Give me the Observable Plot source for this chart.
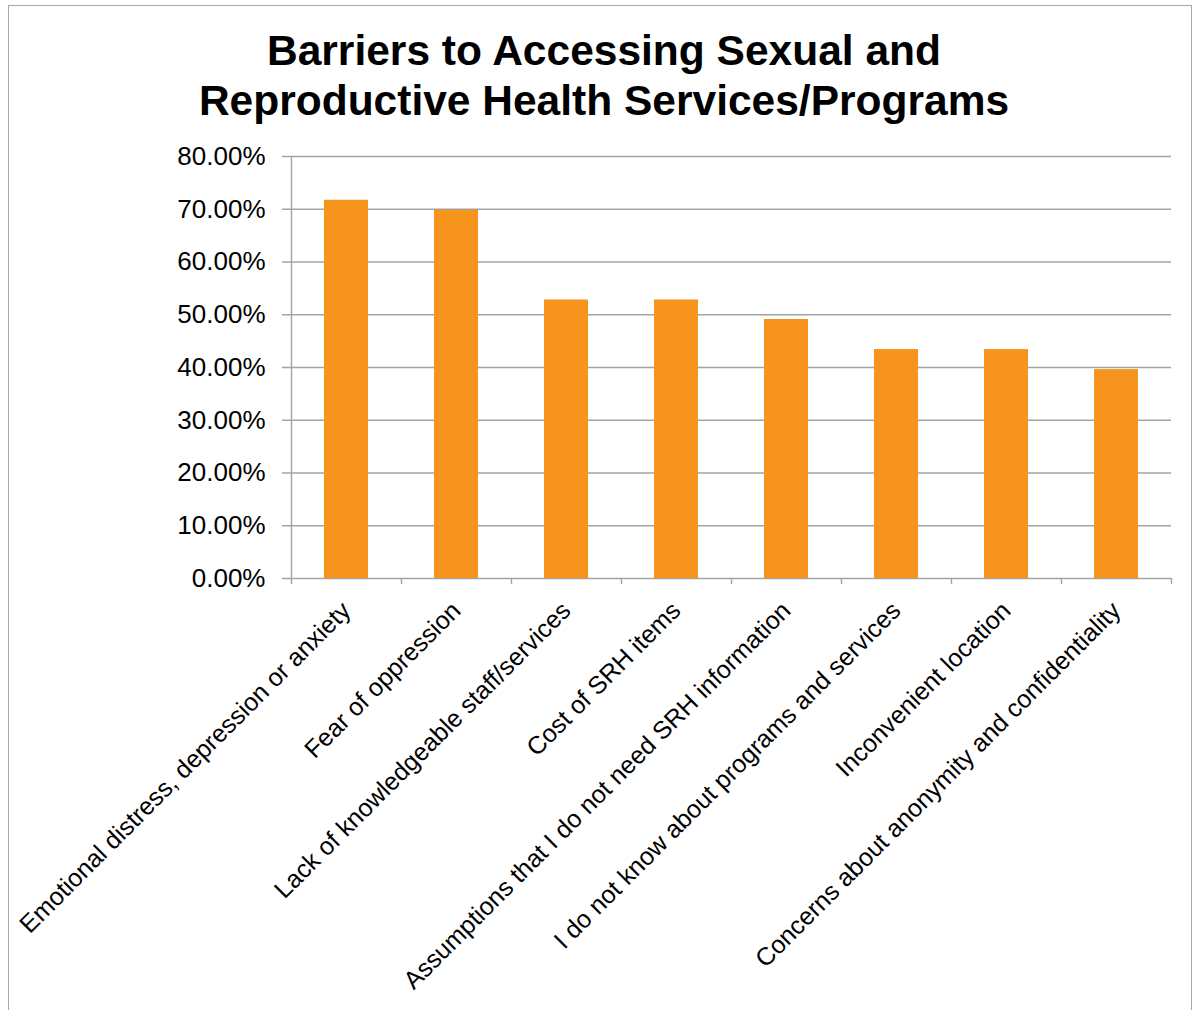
<!DOCTYPE html>
<html>
<head>
<meta charset="utf-8">
<script src="https://cdn.jsdelivr.net/npm/d3@7"></script>
<script src="https://cdn.jsdelivr.net/npm/@observablehq/plot@0.6"></script>
<style>
  html, body { margin: 0; padding: 0; background: #fff; }
  body { width: 1194px; height: 1010px; overflow: hidden; position: relative; font-family: "Liberation Sans", Arial, sans-serif; }
  #frame { position: absolute; left: 8px; top: 5px; width: 1184px; height: 1100px; border: 1.5px solid #a8a8a8; box-sizing: border-box; pointer-events: none; }
  #title { position: relative; height: 130px; box-sizing: border-box; padding-top: 26px; padding-left: 14px; text-align: center; font-weight: bold; font-size: 42.5px; line-height: 50px; color: #000; }
  #chart { position: relative; }
</style>
</head>
<body>
<div id="frame"></div>
<div id="title">Barriers to Accessing Sexual and<br>Reproductive Health Services/Programs</div>
<div id="chart"></div>
<script>
const categories = [
  "Emotional distress, depression or anxiety",
  "Fear of oppression",
  "Lack of knowledgeable staff/services",
  "Cost of SRH items",
  "Assumptions that I do not need SRH information",
  "I do not know about programs and services",
  "Inconvenient location",
  "Concerns about anonymity and confidentiality"
];
const values = [71.7, 69.8, 52.8, 52.8, 49.1, 43.4, 43.4, 39.6];
const yTicks = [0, 10, 20, 30, 40, 50, 60, 70, 80];

const data = categories.map((c, i) => ({category: c, value: values[i]}));
const gridColor = "#a3a3a3";
const halfStep = 55;

const chart = Plot.plot({
  width: 1194,
  height: 875,
  marginTop: 26,
  marginBottom: 427,
  marginLeft: 290,
  marginRight: 23,
  style: {fontFamily: "'Liberation Sans', Arial, sans-serif", background: "transparent", overflow: "visible"},
  x: {domain: categories, paddingInner: 0.6, paddingOuter: 0.3, axis: null},
  y: {domain: [0, 80], axis: null},
  marks: [
    Plot.ruleY(yTicks, {y: d => d, stroke: gridColor, strokeWidth: 1.4, insetLeft: -8}),
    Plot.ruleX([categories[0]], {x: d => d, y1: 0, y2: 80, dx: -halfStep, stroke: gridColor, strokeWidth: 1.4}),
    Plot.ruleX(categories, {x: d => d, y1: 0, y2: 0, dx: -halfStep, insetBottom: -6, stroke: gridColor, strokeWidth: 1.4}),
    Plot.ruleX([categories[categories.length - 1]], {x: d => d, y1: 0, y2: 0, dx: halfStep, insetBottom: -6, stroke: gridColor, strokeWidth: 1.4}),
    Plot.barY(data, {x: "category", y: "value", fill: "#f7941e"}),
    Plot.axisY({ticks: yTicks, label: null, tickSize: 0, tickPadding: 25, fontSize: 26, tickFormat: d => d.toFixed(2) + "%", fill: "#000"}),
    Plot.text(categories, {x: d => d, frameAnchor: "bottom", rotate: -45, textAnchor: "end", lineAnchor: "middle", dx: 0, dy: 28, fontSize: 25, fill: "#000"})
  ]
});
document.getElementById("chart").appendChild(chart);
</script>
</body>
</html>
